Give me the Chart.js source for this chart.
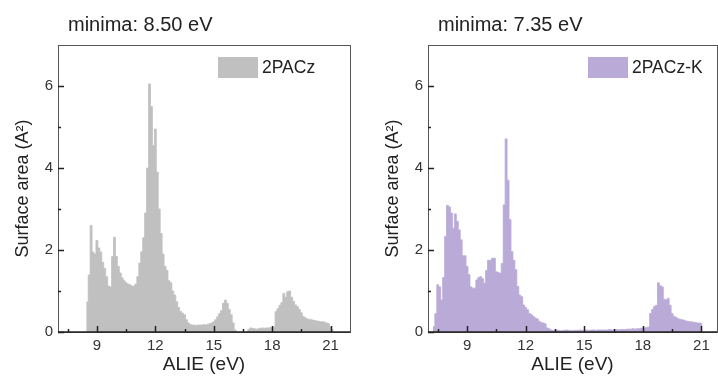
<!DOCTYPE html>
<html>
<head>
<meta charset="utf-8">
<script src="https://cdn.jsdelivr.net/npm/chart.js@4.4.1/dist/chart.umd.min.js"></script>
<style>
  html, body { margin: 0; padding: 0; background: #fff; overflow: hidden; }
  body { width: 718px; height: 376px; position: relative; }
  .panel { position: absolute; top: 0; width: 360px; height: 376px; }
  #left { left: 0; }
  #right { left: 370px; }
</style>
</head>
<body>
<div class="panel" id="left"><canvas id="chartLeft" width="360" height="376"></canvas></div>
<div class="panel" id="right"><canvas id="chartRight" width="360" height="376"></canvas></div>
<script>
// histogram bins, 0.1 eV wide, first value is the centre of the first bin
const binWidth = 0.1;

const pacStart = 8.5;
const pacValues = [
    0.73, 1.39, 2.6, 1.95, 1.9, 2.23, 2.05, 1.95, 1.7, 1.55,
    1.35, 1.12, 1.1, 1.84, 2.31, 1.84, 1.6, 1.44, 1.32, 1.25,
    1.2, 1.17, 1.15, 1.12, 1.12, 1.17, 1.35, 1.68, 1.96, 2.3,
    2.9, 4.0, 6.05, 5.5, 4.55, 4.95, 3.9, 3.0, 2.4, 1.9,
    1.6, 1.5, 1.25, 1.2, 1.0, 0.9, 0.74, 0.6, 0.5, 0.46,
    0.42, 0.3, 0.22, 0.18, 0.17, 0.17, 0.16, 0.17, 0.17, 0.17,
    0.18, 0.17, 0.19, 0.2, 0.22, 0.25, 0.3, 0.37, 0.45, 0.52,
    0.7, 0.78, 0.7, 0.55, 0.42, 0.22, 0.05, 0, 0, 0,
    0, 0, 0, 0.06, 0.1, 0.09, 0.08, 0.07, 0.08, 0.09,
    0.1, 0.09, 0.1, 0.1, 0.11, 0.1, 0.12, 0.5, 0.57, 0.65,
    0.72, 0.94, 0.85, 0.98, 1.0, 0.85, 0.75, 0.66, 0.62, 0.55,
    0.47, 0.38, 0.35, 0.32, 0.31, 0.3, 0.29, 0.28, 0.27, 0.26,
    0.25, 0.25, 0.24, 0.22, 0.2, 0.12, 0.06
];

const pacKStart = 7.3;
const pacKValues = [
    0.13, 0.45, 1.15, 1.1, 0.78, 1.33, 2.33, 3.09, 3.05, 2.9,
    2.53, 2.88, 2.7, 2.49, 2.25, 1.86, 1.86, 1.6, 1.4, 1.1,
    1.07, 1.07, 1.27, 1.33, 1.35, 1.3, 1.19, 1.5, 1.75, 1.75,
    1.8, 1.8, 1.47, 1.45, 1.43, 1.67, 3.1, 4.71, 3.7, 2.74,
    1.96, 1.75, 1.52, 1.11, 0.9, 0.86, 0.66, 0.6, 0.54, 0.45,
    0.42, 0.38, 0.34, 0.32, 0.26, 0.23, 0.22, 0.2, 0.1, 0.08,
    0.05, 0.04, 0.04, 0.05, 0.04, 0.03, 0.04, 0.04, 0.05, 0.04,
    0.04, 0.03, 0.04, 0.04, 0.04, 0.05, 0.04, 0.04, 0.05, 0.04,
    0.04, 0.05, 0.05, 0.04, 0.05, 0.05, 0.05, 0.05, 0.05, 0.05,
    0.06, 0.05, 0.05, 0.06, 0.06, 0.05, 0.06, 0.06, 0.06, 0.07,
    0.07, 0.07, 0.08, 0.07, 0.08, 0.08, 0.09, 0.1, 0.1, 0.11,
    0.12, 0.45, 0.55, 0.62, 0.65, 1.2, 1.13, 1.1, 0.8, 0.78,
    0.82, 0.65, 0.45, 0.38, 0.36, 0.33, 0.31, 0.3, 0.29, 0.27,
    0.26, 0.25, 0.25, 0.24, 0.23, 0.22, 0.22, 0.2
];

const xMajorTicks = [9, 12, 15, 18, 21];
const xMinorTicks = [7.5, 10.5, 13.5, 16.5, 19.5];
const yMajorTicks = [0, 2, 4, 6];
const yMinorTicks = [1, 3, 5];

const FONT = '"Liberation Sans", Arial, sans-serif';

// step outline: one point at the left edge of every bin, plus the right edge of the last one
function toSteps(start, values) {
    const pts = values.map((v, i) => ({ x: +(start - binWidth / 2 + i * binWidth).toFixed(3), y: v }));
    pts.push({ x: +(start - binWidth / 2 + values.length * binWidth).toFixed(3), y: values[values.length - 1] });
    return pts;
}

// frame, inward ticks, panel title and the legend inside the plot
const panelDecor = {
    id: 'panelDecor',
    afterDatasetsDraw(chart, args, opts) {
        const { ctx, chartArea: a, scales: { x, y } } = chart;
        ctx.save();
        ctx.strokeStyle = '#555';
        ctx.lineWidth = 1;
        ctx.strokeRect(a.left + 0.5, a.top + 0.5, a.right - a.left, a.bottom - a.top);
        ctx.strokeStyle = '#222';
        ctx.lineWidth = 1.5;
        ctx.beginPath();
        ctx.moveTo(a.left, a.bottom);
        ctx.lineTo(a.right, a.bottom);
        ctx.stroke();

        ctx.beginPath();
        xMajorTicks.concat(xMinorTicks).forEach(v => {
            const px = Math.round(x.getPixelForValue(v)) + 0.5;
            const len = xMajorTicks.includes(v) ? 6 : 3;
            ctx.moveTo(px, a.bottom);
            ctx.lineTo(px, a.bottom - len);
        });
        yMajorTicks.concat(yMinorTicks).forEach(v => {
            const py = Math.round(y.getPixelForValue(v)) + 0.5;
            const len = yMajorTicks.includes(v) ? 6 : 3;
            ctx.moveTo(a.left, py);
            ctx.lineTo(a.left + len, py);
        });
        ctx.stroke();

        ctx.fillStyle = '#222';
        ctx.textBaseline = 'middle';
        ctx.textAlign = 'left';
        ctx.font = '20px ' + FONT;
        ctx.fillText(opts.title, a.left + 10, 25);

        ctx.fillStyle = opts.color;
        ctx.fillRect(a.left + 160, 57, 40, 21);
        ctx.fillStyle = '#222';
        ctx.font = '17.5px ' + FONT;
        ctx.fillText(opts.label, a.left + 204, 68);
        ctx.restore();
    }
};

function makeChart(canvasId, start, values, label, color, title, xMax, padRight) {
    return new Chart(document.getElementById(canvasId), {
        type: 'line',
        data: {
            datasets: [{
                label: label,
                data: toSteps(start, values),
                stepped: 'before',
                backgroundColor: color,
                borderColor: color,
                borderWidth: 0.8,
                pointRadius: 0,
                fill: 'origin'
            }]
        },
        plugins: [panelDecor],
        options: {
            responsive: false,
            animation: false,
            events: [],
            layout: { padding: { top: 45, right: padRight, bottom: 0, left: 0 } },
            plugins: {
                legend: { display: false },
                tooltip: { enabled: false },
                panelDecor: { title: title, label: label, color: color }
            },
            scales: {
                x: {
                    type: 'linear',
                    min: 7,
                    max: xMax,
                    grid: { display: false, drawTicks: false },
                    border: { display: false },
                    afterBuildTicks: scale => {
                        scale.ticks = xMajorTicks.map(v => ({ value: v }));
                    },
                    afterFit: scale => { scale.height = 44; },
                    ticks: {
                        autoSkip: false,
                        maxRotation: 0,
                        padding: 5,
                        color: '#333',
                        font: { family: FONT, size: 15 }
                    },
                    title: {
                        display: true,
                        text: 'ALIE (eV)',
                        color: '#222',
                        padding: { top: 0, bottom: 0 },
                        font: { family: FONT, size: 19 }
                    }
                },
                y: {
                    min: 0,
                    max: 7,
                    grid: { display: false, drawTicks: false },
                    border: { display: false },
                    afterBuildTicks: scale => {
                        scale.ticks = yMajorTicks.map(v => ({ value: v }));
                    },
                    afterFit: scale => { scale.width = 58; },
                    ticks: {
                        padding: 5,
                        color: '#333',
                        font: { family: FONT, size: 15 }
                    },
                    title: {
                        display: true,
                        text: 'Surface area (A²)',
                        color: '#222',
                        padding: { top: 12, bottom: 0 },
                        font: { family: FONT, size: 18 }
                    }
                }
            }
        }
    });
}

makeChart('chartLeft', pacStart, pacValues, '2PACz', 'rgb(192, 192, 192)', 'minima: 8.50 eV', 22, 10);
makeChart('chartRight', pacKStart, pacKValues, '2PACz-K', 'rgb(186, 170, 216)', 'minima: 7.35 eV', 21.8, 13);
</script>
</body>
</html>
